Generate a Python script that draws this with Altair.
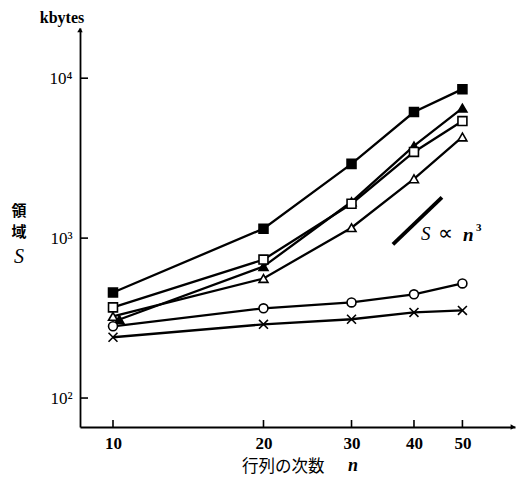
import altair as alt
import pandas as pd

# ---- data ----
n_vals = [10, 20, 30, 40, 50]
n_filled_triangle = [10.3, 20, 30, 40, 50]
filled_square = [457, 1146, 2912, 6140, 8540]
filled_triangle = [310, 664, 1688, 3770, 6500]
open_square = [369, 734, 1640, 3460, 5395]
open_triangle = [324, 559, 1162, 2348, 4290]
circle = [281, 364, 396, 445, 521]
cross = [240, 289, 311, 343, 353]

series_names = ["filled_square", "filled_triangle", "open_square",
                "open_triangle", "circle", "cross"]
series_vals = [filled_square, filled_triangle, open_square,
               open_triangle, circle, cross]
series_n = [n_vals, n_filled_triangle, n_vals, n_vals, n_vals, n_vals]

x_ticks = [10, 20, 30, 40, 50]
y_ticks = [100, 1000, 10000]

slope_n = [36.3, 45.5]
slope_s = [914, 1800]

rows = []
for name, ns, vals in zip(series_names, series_n, series_vals):
    for n, v in zip(ns, vals):
        rows.append({"series": name, "n": n, "S": v})
df = pd.DataFrame(rows)

slope_df = pd.DataFrame({"n": slope_n, "S": slope_s})
xt_df = pd.DataFrame({"n": x_ticks})
yt_df = pd.DataFrame({"S": y_ticks})

W, H = 435, 399
serif = "Liberation Serif"

xscale = alt.Scale(type="log", domain=[8.59, 63.7], nice=False)
yscale = alt.Scale(type="log", domain=[65.9, 20600], nice=False)

xenc = alt.X("n:Q", scale=xscale,
             axis=alt.Axis(values=x_ticks, ticks=False, grid=False, title=None,
                           labelFont=serif, labelFontSize=17, labelFontWeight="bold",
                           labelColor="black", labelPadding=8,
                           domainColor="black", domainWidth=1.8, labelFlush=False))
yenc = alt.Y("S:Q", scale=yscale,
             axis=alt.Axis(values=y_ticks, ticks=False, grid=False, title=None,
                           labelExpr="'10' + (datum.value == 100 ? '²' : datum.value == 1000 ? '³' : '⁴')",
                           labelFont=serif, labelFontSize=17, labelColor="black",
                           labelPadding=8, domainColor="black", domainWidth=1.8,
                           labelFlush=False))

lines = alt.Chart(df).mark_line(color="black", strokeWidth=2.3).encode(
    x=xenc, y=yenc, detail="series:N")

cross_path = "M-1,-1L1,1M-1,1L1,-1"
points = alt.Chart(df).mark_point(filled=True, stroke="black", strokeWidth=1.6, size=80, opacity=1).encode(
    x=alt.X("n:Q", scale=xscale),
    y=alt.Y("S:Q", scale=yscale),
    shape=alt.Shape("series:N", legend=None,
                    scale=alt.Scale(domain=series_names,
                                    range=["square", "triangle-up", "square",
                                           "triangle-up", "circle", cross_path])),
    fill=alt.Fill("series:N", legend=None,
                  scale=alt.Scale(domain=series_names,
                                  range=["black", "black", "white", "white", "white", "transparent"])),
)

slope = alt.Chart(slope_df).mark_line(color="black", strokeWidth=3.8).encode(
    x=alt.X("n:Q", scale=xscale), y=alt.Y("S:Q", scale=yscale))

xticks = alt.Chart(xt_df).mark_rule(color="black", strokeWidth=1.6).encode(
    x=alt.X("n:Q", scale=xscale), y=alt.value(H - 7), y2=alt.value(H))
yticks = alt.Chart(yt_df).mark_rule(color="black", strokeWidth=1.6).encode(
    y=alt.Y("S:Q", scale=yscale), x=alt.value(0), x2=alt.value(8))

def txt(text, x, y, font=serif, size=17, weight="normal", style="normal", align="center"):
    return alt.Chart(pd.DataFrame({"t": [text]})).mark_text(
        font=font, fontSize=size, fontWeight=weight, fontStyle=style,
        align=align, baseline="middle", color="black").encode(
        text="t:N", x=alt.value(x), y=alt.value(y))

cjk = "Noto Sans CJK JP"
labels = [
    txt("kbytes", -18, -10, weight="bold", size=16),
    txt("領", -61, 183, font=cjk, size=15, weight="bold"),
    txt("域", -61, 204, font=cjk, size=15, weight="bold"),
    txt("S", -61, 229, size=20, style="italic"),
    txt("行列の次数", 162, 439, font=cjk, size=16.5, align="left"),
    txt("n", 268, 438, size=18, weight="bold", style="italic", align="left"),
    txt("S", 341, 206, size=19, style="italic", align="left"),
    txt("∝", 358, 206, size=21, align="left"),
    txt("n", 383, 207, size=19, weight="bold", style="italic", align="left"),
    txt("3", 396, 200, size=11, weight="bold", align="left"),
]

arrows = [
    alt.Chart(pd.DataFrame({"a": [0]})).mark_point(shape="triangle-up", filled=True, color="black",
                                                  size=30, opacity=1).encode(
        x=alt.value(0), y=alt.value(2)),
    alt.Chart(pd.DataFrame({"a": [0]})).mark_point(shape="triangle-right", filled=True, color="black",
                                                  size=30, opacity=1).encode(
        x=alt.value(W - 2), y=alt.value(H)),
]

chart = alt.layer(lines, slope, xticks, yticks, points, *labels, *arrows).properties(
    width=W, height=H,
    autosize=alt.AutoSizeParams(type="none"),
    padding={"left": 72, "top": 20, "right": 1, "bottom": 49},
    background="white",
).configure_view(stroke=None)

chart.save("out.html", embed_options={"renderer": "svg", "actions": False})
